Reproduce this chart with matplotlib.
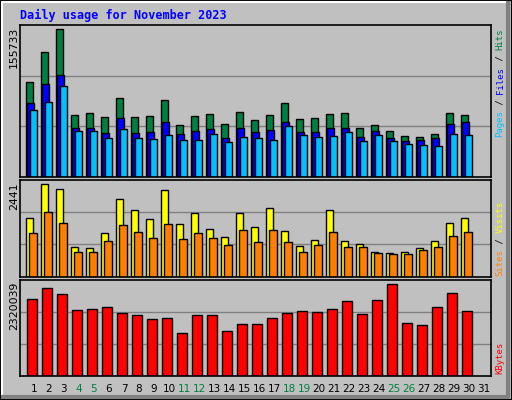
import matplotlib
matplotlib.use("Agg")
import matplotlib.pyplot as plt
from matplotlib.patches import Rectangle
from matplotlib.lines import Line2D
import numpy as np

days = list(range(1, 32))
weekend = [4, 5, 11, 12, 18, 19, 25, 26]

hits = [99712, 131423, 155733, 64831, 66945, 62717, 82800, 62717, 63774, 80686, 54260, 63774, 65888, 55317, 68002, 59545,
        64831, 77515, 60602, 61660, 65888, 66945, 51089, 54260, 47918, 42633, 41576, 44747, 66945, 64831]
files = [77515, 97598, 107111, 51089, 51089, 45804, 61660, 45804, 46861, 57431, 44747, 47918, 50032, 40519, 51089, 46861,
         48975, 57431, 46861, 46861, 51089, 51089, 41576, 47918, 40519, 37348, 38405, 40519, 55317, 57431]
pages = [70116, 78572, 95484, 47918, 47918, 40519, 50032, 40519, 39462, 43690, 38405, 38405, 44747, 36291, 41576, 40519,
         38405, 53203, 43690, 41576, 42633, 46861, 37348, 43690, 37348, 34177, 33120, 32063, 44747, 43690]
visits = [1560, 2441, 2309, 775, 749, 1146, 2053, 1762, 1525, 2282, 1392, 1683, 1260, 1049, 1683, 1304, 1807, 1198, 802,
          969, 1762, 943, 864, 643, 617, 643, 749, 943, 1419, 1551]
sites = [1146, 1718, 1427, 643, 643, 934, 1357, 1172, 1013, 1384, 987, 1146, 1013, 828, 1225, 908, 1225, 908, 643,
         828, 1172, 775, 775, 617, 590, 590, 696, 775, 1066, 1172]
kbytes = [1939000, 2218000, 2066000, 1659000, 1684000, 1735000, 1583000, 1532000, 1430000, 1456000, 1075000, 1532000,
          1532000, 1126000, 1304000, 1304000, 1456000, 1583000, 1634000, 1608000, 1684000, 1888000, 1558000, 1913000,
          2320039, 1329000, 1278000, 1735000, 2091000, 1634000]

HITS_C, FILES_C, PAGES_C = '#008040', '#0000FF', '#00C0FF'
VIS_C, SITES_C, KB_C = '#FFFF00', '#FF8000', '#FF0000'

W, H = 512, 400
fig = plt.figure(figsize=(W / 100, H / 100), dpi=100)
fig.patch.set_facecolor('#C0C0C0')

def px(x0, y0, x1, y1):
    return [x0 / W, 1 - y1 / H, (x1 - x0) / W, (y1 - y0) / H]

# bevel border
fig.add_artist(Rectangle((0, 0), 1, 1, transform=fig.transFigure, fill=False, ec='black', lw=1.5))
fig.add_artist(Line2D([2/W, 2/W, 1-6/W], [6/H, 1-2/H, 1-2/H], transform=fig.transFigure, color='white', lw=1.5))
fig.add_artist(Line2D([3/W, 1-4/W, 1-4/W], [3/H, 3/H, 1-3/H], transform=fig.transFigure, color='#808080', lw=3))

fig.text(20 / W, 1 - 15 / H, 'Daily usage for November 2023', color='#0000FF', fontsize=8.5,
         fontweight='bold', family='DejaVu Sans Mono', va='center', ha='left')

x = np.arange(1, 31)
xl = (0.07, 31.47)

def setup(ax, top):
    ax.set_facecolor('#C0C0C0')
    ax.set_xlim(*xl)
    ax.set_ylim(0, top)
    for f in (1/3, 2/3):
        ax.axhline(top * f, color='#808080', lw=1, zorder=0)
    ax.set_xticks([]); ax.set_yticks([])
    for s in ax.spines.values():
        s.set_color('black'); s.set_linewidth(1.2)

def side_label(y_bottom, parts, xpos=500):
    fs = 6.5
    adv = 0.602 * fs * 100 / 72
    y = y_bottom
    for txt, col in parts:
        fig.text(xpos / W, 1 - y / H, txt, rotation=90, color=col, fontsize=fs,
                 family='DejaVu Sans Mono', ha='center', va='bottom')
        y -= adv * len(txt)

kw = dict(edgecolor='black', linewidth=1, align='edge')

ax1 = fig.add_axes(px(20, 25, 491, 176.7))
setup(ax1, max(hits) * 454 / 442)
ax1.bar(x - 0.55, hits, 0.47, color=HITS_C, **kw)
ax1.bar(x - 0.45, files, 0.47, color=FILES_C, **kw)
ax1.bar(x - 0.29, pages, 0.47, color=PAGES_C, **kw)
fig.text(14 / W, 1 - 27 / H, '155733', rotation=90, fontsize=7.8, ha='center', va='top')

ax2 = fig.add_axes(px(20, 180, 491, 276.7))
setup(ax2, max(visits) * 290 / 277)
ax2.bar(x - 0.55, visits, 0.5, color=VIS_C, **kw)
ax2.bar(x - 0.31, sites, 0.49, color=SITES_C, **kw)
fig.text(14 / W, 1 - 182 / H, '2441', rotation=90, fontsize=7.8, ha='center', va='top')

ax3 = fig.add_axes(px(20, 280, 491, 375.7))
setup(ax3, max(kbytes) * 287 / 274)
ax3.bar(x - 0.49, kbytes, 0.67, color=KB_C, **kw)
fig.text(14 / W, 1 - 282 / H, '2320039', rotation=90, fontsize=7.8, ha='center', va='top')

for d in days:
    fig.text((20 + (d - xl[0]) / (xl[1] - xl[0]) * 471) / W, 1 - 389 / H, str(d),
             color='#008040' if d in weekend else 'black', fontsize=7.5, ha='center', va='center')

side_label(137, [('Pages', PAGES_C), (' / ', 'black'), ('Files', FILES_C), (' / ', 'black'), ('Hits', HITS_C)])
side_label(276, [('Sites', SITES_C), (' / ', 'black'), ('Visits', VIS_C)])
side_label(374, [('KBytes', KB_C)])

fig.savefig('out.png', dpi=100, facecolor=fig.get_facecolor())
